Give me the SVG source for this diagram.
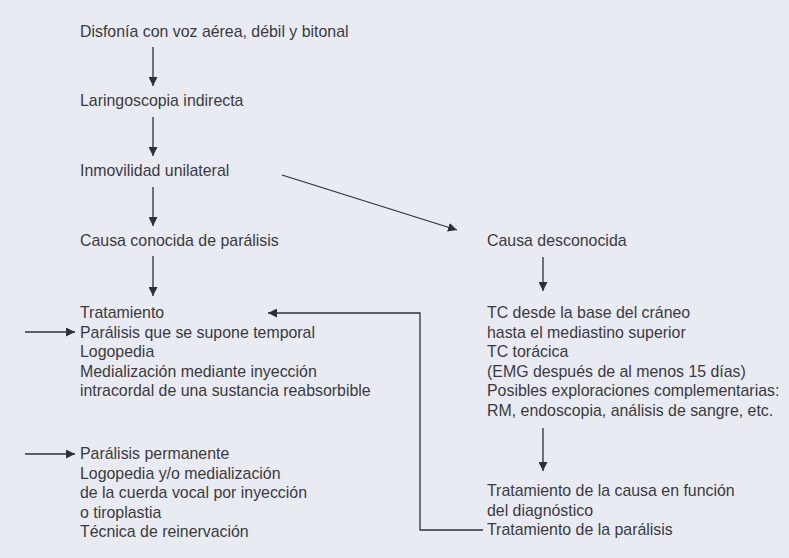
<svg xmlns="http://www.w3.org/2000/svg" width="789" height="558" viewBox="0 0 789 558">
<defs><marker id="ah" viewBox="0 0 10 10" refX="10" refY="5" markerWidth="9" markerHeight="9" markerUnits="userSpaceOnUse" orient="auto"><path d="M0,0L10,5L0,10z" fill="#2e3038"/></marker></defs>
<style>text{font-family:"Liberation Sans",Arial,sans-serif;font-size:15.9px;fill:#3a3a3e}.c{stroke:#2e3038;stroke-width:1.3;fill:none;marker-end:url(#ah)}</style>
<rect width="789" height="558" fill="#e9ebf3"/>
<g id="n1"><text x="80" y="37">Disfonía con voz aérea, débil y bitonal</text></g>
<g id="n2"><text x="80" y="106">Laringoscopia indirecta</text></g>
<g id="n3"><text x="80" y="176">Inmovilidad unilateral</text></g>
<g id="n4"><text x="80" y="246">Causa conocida de parálisis</text></g>
<g id="n5"><text x="487" y="246">Causa desconocida</text></g>
<g id="n6"><text x="80" y="318">Tratamiento</text><text x="80" y="337.5">Parálisis que se supone temporal</text><text x="80" y="357">Logopedia</text><text x="80" y="376.5">Medialización mediante inyección</text><text x="80" y="396">intracordal de una sustancia reabsorbible</text></g>
<g id="n7"><text x="80" y="459">Parálisis permanente</text><text x="80" y="478.5">Logopedia y/o medialización</text><text x="80" y="498">de la cuerda vocal por inyección</text><text x="80" y="517.5">o tiroplastia</text><text x="80" y="537">Técnica de reinervación</text></g>
<g id="n8"><text x="487" y="318">TC desde la base del cráneo</text><text x="487" y="337.5">hasta el mediastino superior</text><text x="487" y="357">TC torácica</text><text x="487" y="376.5">(EMG después de al menos 15 días)</text><text x="487" y="396">Posibles exploraciones complementarias:</text><text x="487" y="415.5">RM, endoscopia, análisis de sangre, etc.</text></g>
<g id="n9"><text x="487" y="496">Tratamiento de la causa en función</text><text x="487" y="515.5">del diagnóstico</text><text x="487" y="535">Tratamiento de la parálisis</text></g>
<g id="connectors">
<path class="c" d="M153,47V86"/><path class="c" d="M153,117V156"/><path class="c" d="M153,187V226"/><path class="c" d="M153,256V296"/>
<path class="c" d="M282,175L457,230"/>
<path class="c" d="M543,257V291"/><path class="c" d="M543,428V471"/>
<path class="c" d="M25,332H75"/><path class="c" d="M25,454H75"/>
<path class="c" d="M483,530H420V313H268"/>
</g>
</svg>
